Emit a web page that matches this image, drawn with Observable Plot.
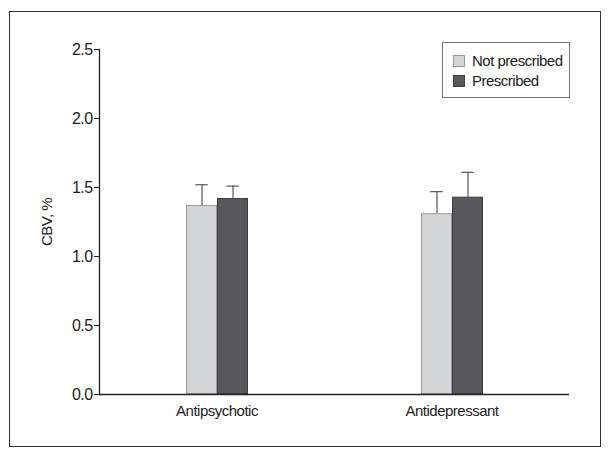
<!DOCTYPE html>
<html>
<head>
<meta charset="utf-8">
<script src="https://cdn.jsdelivr.net/npm/d3@7"></script>
<script src="https://cdn.jsdelivr.net/npm/@observablehq/plot@0.6"></script>
<style>
  html, body { margin: 0; padding: 0; background: #fff; }
  #wrap { position: relative; width: 612px; height: 459px; overflow: hidden; }
  #wrap svg { position: absolute; left: 0; top: 0; }
  #box { position: absolute; left: 9px; top: 11px; width: 590px; height: 434px; border: 1.6px solid #333; pointer-events: none; }
  #legend { position: absolute; left: 442px; top: 42px; width: 126px; height: 54px; border: 1px solid #777; background: #fff;
            font-family: "Liberation Sans", Arial, sans-serif; font-size: 15px; color: #222; letter-spacing: -0.5px; }
  .item { position: absolute; left: 10px; height: 14px; line-height: 14px; white-space: nowrap; }
  .sw { display: inline-block; width: 10px; height: 10px; vertical-align: top; margin-top: 1px; margin-right: 7px; border: 1px solid #888; }
  .yax text { font-size: 16px; letter-spacing: -0.6px; }
</style>
</head>
<body>
<div id="wrap"></div>
<script>
const categories = ["Antipsychotic", "Antidepressant"];
const series = ["Not prescribed", "Prescribed"];
const notPrescribed = [1.37, 1.31];
const prescribed = [1.42, 1.43];
const notPrescribedErr = [0.15, 0.16];
const prescribedErr = [0.09, 0.18];
const yTicks = [0, 0.5, 1.0, 1.5, 2.0, 2.5];
const colors = ["#d3d4d6", "#58585c"];
const outlines = ["#9a9a9c", "#3e3e40"];

const rows = categories.flatMap((c, i) => [
  {category: c, series: series[0], value: notPrescribed[i], err: notPrescribedErr[i]},
  {category: c, series: series[1], value: prescribed[i], err: prescribedErr[i]}
]);

const font = '"Liberation Sans", Arial, sans-serif';

const chart = Plot.plot({
  width: 612,
  height: 459,
  marginLeft: 98,
  marginRight: 43,
  marginTop: 49,
  marginBottom: 65,
  style: {fontFamily: font, fontSize: "15px", color: "#222", background: "transparent", letterSpacing: "-0.5px"},
  fx: {domain: categories, padding: 0, label: null},
  x: {domain: series, paddingInner: 0, paddingOuter: 2.75, axis: null},
  y: {domain: [0, 2.5], label: null},
  color: {domain: series, range: colors},
  marks: [
    Plot.axisFx({anchor: "bottom", tickSize: 0, tickPadding: 11, label: null}),
    Plot.axisY({ticks: yTicks, tickFormat: d => d.toFixed(1), tickSize: 5, tickPadding: 2, className: "yax",
                label: "CBV, %", labelAnchor: "center", labelArrow: "none", labelOffset: 58, stroke: "#222"}),
    Plot.ruleX(rows, {fx: "category", x: "series", y1: "value", y2: d => d.value + d.err, stroke: "#555", strokeWidth: 1.2}),
    Plot.tickY(rows, {fx: "category", x: "series", y: d => d.value + d.err, stroke: "#555", strokeWidth: 1.2, insetLeft: 9.3, insetRight: 9.3}),
    Plot.barY(rows, {fx: "category", x: "series", y: "value", fill: "series",
                     stroke: d => outlines[series.indexOf(d.series)], strokeWidth: 1, inset: 0.5}),
    Plot.ruleY([0], {stroke: "#222", strokeWidth: 1.3}),
    Plot.frame({anchor: "left", facetAnchor: "left", stroke: "#222", strokeWidth: 1.3})
  ]
});

const wrap = document.getElementById("wrap");
wrap.appendChild(chart);

const legend = document.createElement("div");
legend.id = "legend";
series.forEach((s, i) => {
  const item = document.createElement("div");
  item.className = "item";
  item.style.top = (11 + i * 20) + "px";
  const sw = document.createElement("span");
  sw.className = "sw";
  sw.style.background = colors[i];
  sw.style.borderColor = outlines[i];
  item.appendChild(sw);
  item.appendChild(document.createTextNode(s));
  legend.appendChild(item);
});
wrap.appendChild(legend);

const box = document.createElement("div");
box.id = "box";
wrap.appendChild(box);
</script>
</body>
</html>
